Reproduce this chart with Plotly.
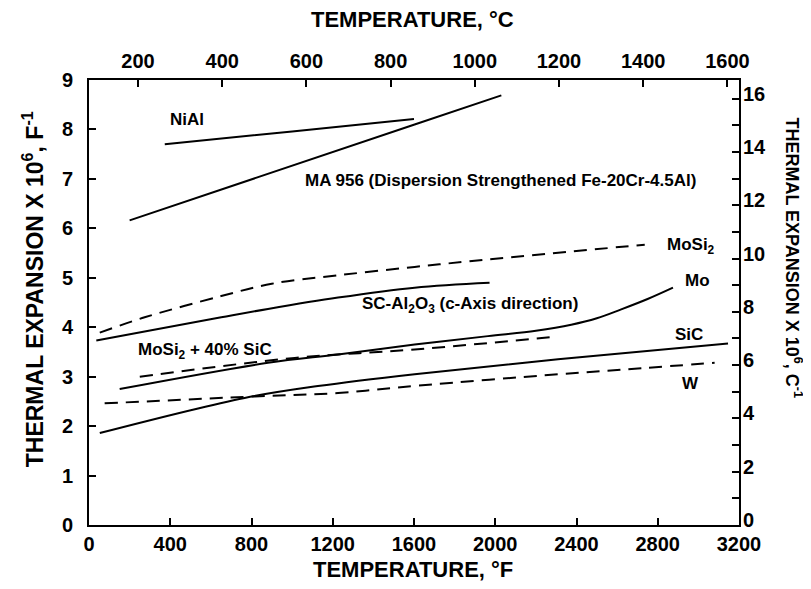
import plotly.graph_objects as go

# Temperatures in deg F (bottom axis), expansion x10^6 per deg F (left axis)
niai_T = [373, 1000, 1600]
niai_v = [7.70, 7.96, 8.21]

ma956_T = [200, 1603, 2030]
ma956_v = [6.16, 8.10, 8.69]

mosi2_T = [53, 274, 651, 900, 1226, 1603, 1964, 2736]
mosi2_v = [3.89, 4.20, 4.63, 4.88, 5.05, 5.22, 5.37, 5.67]

al2o3_T = [36, 651, 881, 1226, 1603, 1972]
al2o3_v = [3.73, 4.20, 4.37, 4.60, 4.80, 4.90]

mo_T = [151, 881, 1226, 1603, 1964, 2200, 2374, 2500, 2620, 2750, 2875]
mo_v = [2.75, 3.28, 3.45, 3.65, 3.82, 3.93, 4.05, 4.18, 4.36, 4.57, 4.80]

mosic_T = [250, 1013, 1603, 2300]
mosic_v = [3.00, 3.38, 3.55, 3.81]

sic_T = [53, 766, 1127, 1603, 2309, 3146]
sic_v = [1.86, 2.57, 2.81, 3.05, 3.35, 3.67]

w_T = [77, 816, 1226, 1620, 2317, 2718, 3080]
w_v = [2.46, 2.60, 2.67, 2.82, 3.05, 3.17, 3.28]

F_ticks = [0, 400, 800, 1200, 1600, 2000, 2400, 2800, 3200]
C_ticks = [200, 400, 600, 800, 1000, 1200, 1400, 1600]

AXFONT = "Liberation Sans, Arial, Helvetica"
LBLFONT = "Liberation Sans, Arial, Helvetica"

fig = go.Figure()

solid = dict(color="black", width=2)
dashed = dict(color="black", width=2, dash="13px,8px")

series = [
    (niai_T, niai_v, solid, "NiAl"),
    (ma956_T, ma956_v, solid, "MA 956"),
    (mosi2_T, mosi2_v, dashed, "MoSi2"),
    (al2o3_T, al2o3_v, solid, "SC-Al2O3"),
    (mo_T, mo_v, solid, "Mo"),
    (mosic_T, mosic_v, dashed, "MoSi2 + 40% SiC"),
    (sic_T, sic_v, solid, "SiC"),
    (w_T, w_v, dashed, "W"),
]
for T, v, ln, name in series:
    fig.add_trace(go.Scatter(x=T, y=v, mode="lines", line=ln, name=name,
                             showlegend=False, line_shape="spline"))

# empty trace to activate secondary axes
fig.add_trace(go.Scatter(x=[], y=[], xaxis="x2", yaxis="y2", showlegend=False))

labels = [
    (389, 8.21, "NiAl"),
    (1054, 6.96, "MA 956 (Dispersion Strengthened Fe-20Cr-4.5Al)"),
    (1334, 4.45, "SC-Al<sub>2</sub>O<sub>3</sub> (c-Axis direction)"),
    (231, 3.52, "MoSi<sub>2</sub> + 40% SiC"),
    (2836, 5.65, "MoSi<sub>2</sub>"),
    (2924, 4.94, "Mo"),
    (2875, 3.85, "SiC"),
    (2910, 2.87, "W"),
]
annots = []
for x, y, t in labels:
    annots.append(dict(x=x, y=y, xref="x", yref="y", text="<b>" + t + "</b>",
                       showarrow=False, xanchor="left", yanchor="middle",
                       font=dict(family=LBLFONT, size=17, color="black")))

title_font = dict(family=AXFONT, size=22, color="black")
annots += [
    dict(x=0.498, y=1.135, xref="paper", yref="paper", showarrow=False,
         text="<b>TEMPERATURE, °C</b>", font=title_font, xanchor="center", yanchor="middle"),
    dict(x=0.498, y=-0.10, xref="paper", yref="paper", showarrow=False,
         text="<b>TEMPERATURE, °F</b>", font=title_font, xanchor="center", yanchor="middle"),
    dict(x=-0.086, y=0.53, xref="paper", yref="paper", showarrow=False, textangle=-90,
         text="<b>THERMAL EXPANSION X 10<sup>6</sup>, F<sup>-1</sup></b>",
         font=dict(family=AXFONT, size=23, color="black"),
         xanchor="center", yanchor="middle"),
    dict(x=1.084, y=0.60, xref="paper", yref="paper", showarrow=False, textangle=90,
         text="<b>THERMAL EXPANSION X 10<sup>6</sup>, C<sup>-1</sup></b>",
         font=dict(family=AXFONT, size=18, color="black"),
         xanchor="center", yanchor="middle"),
]

tickfont = dict(family=AXFONT, size=20, color="black", weight="bold")
common = dict(showgrid=False, zeroline=False, showline=True, linecolor="black",
              linewidth=2, ticks="inside", tickcolor="black", tickwidth=1.5,
              tickfont=tickfont)

fig.update_layout(
    width=811, height=589,
    margin=dict(l=81, r=80, t=72, b=72),
    paper_bgcolor="white", plot_bgcolor="white",
    showlegend=False,
    annotations=annots,
    xaxis=dict(range=[0, 3200], tickvals=F_ticks, ticklen=7, **common),
    yaxis=dict(range=[0, 9], dtick=1, ticklen=7, ticklabelstandoff=10, **common),
    xaxis2=dict(range=[83.6, 1627.6], tickvals=C_ticks, overlaying="x", side="top",
                ticklen=7, ticklabelstandoff=2, **common),
    yaxis2=dict(range=[0, 16.7], dtick=2, overlaying="y", side="right", ticklen=7,
                ticklabelstandoff=-2, ticklabelshift=-5,
                minor=dict(dtick=1, ticks="inside", ticklen=7, tickcolor="black", tickwidth=1.5),
                **common),
)

fig.write_html("out.html")
